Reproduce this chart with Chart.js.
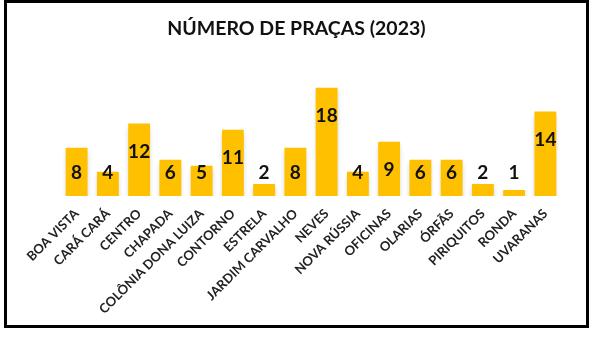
<!DOCTYPE html>
<html>
<head>
<meta charset="utf-8">
<script src="https://cdn.jsdelivr.net/npm/chart.js@4/dist/chart.umd.min.js"></script>
<style>
  html, body { margin: 0; padding: 0; background: #fff; }
  #box {
    position: absolute; left: 4px; top: 0px;
    width: 585px; height: 328px;
    box-sizing: border-box; border: 3px solid #000;
  }
  #box canvas { display: block; }
</style>
</head>
<body>
<div id="box"><canvas id="myChart" width="579" height="322"></canvas></div>
<script>
  const bairros = ['BOA VISTA', 'CARÁ CARÁ', 'CENTRO', 'CHAPADA', 'COLÔNIA DONA LUIZA', 'CONTORNO',
    'ESTRELA', 'JARDIM CARVALHO', 'NEVES', 'NOVA RÚSSIA', 'OFICINAS', 'OLARIAS', 'ÓRFÃS',
    'PIRIQUITOS', 'RONDA', 'UVARANAS'];
  const pracas = [8, 4, 12, 6, 5, 11, 2, 8, 18, 4, 9, 6, 6, 2, 1, 14];
  const titulo = 'NÚMERO DE PRAÇAS (2023)';

  // soft shadow under the bars
  const barShadow = {
    id: 'barShadow',
    beforeDatasetDraw(chart) {
      const c = chart.ctx;
      c.save();
      c.shadowColor = 'rgba(0,0,0,0.18)';
      c.shadowBlur = 5;
      c.shadowOffsetY = 3;
    },
    afterDatasetDraw(chart) {
      chart.ctx.restore();
    }
  };

  // value labels, near the top of the bar (but not lower than the base line)
  const valueLabels = {
    id: 'valueLabels',
    afterDatasetsDraw(chart) {
      const c = chart.ctx;
      const meta = chart.getDatasetMeta(0);
      const base = chart.scales.y.getPixelForValue(0);
      c.save();
      c.font = 'bold 19px Lato';
      c.fillStyle = '#111';
      c.textAlign = 'center';
      c.textBaseline = 'middle';
      meta.data.forEach((bar, i) => {
        const y = Math.min(bar.y + 28, base - 23);
        c.fillText(String(pracas[i]), bar.x, y);
      });
      c.restore();
    }
  };

  // invisible side axes, just to keep the plot where it is and the title centred
  const hiddenAxis = (w, pos) => ({
    display: true,
    position: pos,
    ticks: { display: false },
    grid: { display: false },
    border: { display: false },
    afterFit(scale) { scale.width = w; }
  });

  const ctx = document.getElementById('myChart').getContext('2d');
  const myChart = new Chart(ctx, {
    type: 'bar',
    data: {
      labels: bairros,
      datasets: [{
        data: pracas,
        backgroundColor: '#FFC000',
        borderWidth: 0,
        categoryPercentage: 1,
        barPercentage: 0.7
      }]
    },
    options: {
      responsive: false,
      animation: false,
      layout: { padding: { left: 20, right: 20, top: 0, bottom: 6 } },
      plugins: {
        legend: { display: false },
        tooltip: { enabled: false },
        title: {
          display: true,
          text: titulo,
          color: '#111',
          font: { family: 'Lato', size: 19.5, weight: 'bold' },
          padding: { top: 14, bottom: 47 }
        }
      },
      scales: {
        y: Object.assign(hiddenAxis(34, 'left'), { min: 0, max: 18 }),
        y2: hiddenAxis(5, 'right'),
        x: {
          grid: { display: false },
          border: { display: false },
          ticks: {
            autoSkip: false,
            maxRotation: 45,
            minRotation: 45,
            color: '#222',
            padding: 2,
            font: { family: 'Lato', size: 13, weight: 'bold' }
          }
        }
      }
    },
    plugins: [barShadow, valueLabels]
  });
</script>
</body>
</html>
